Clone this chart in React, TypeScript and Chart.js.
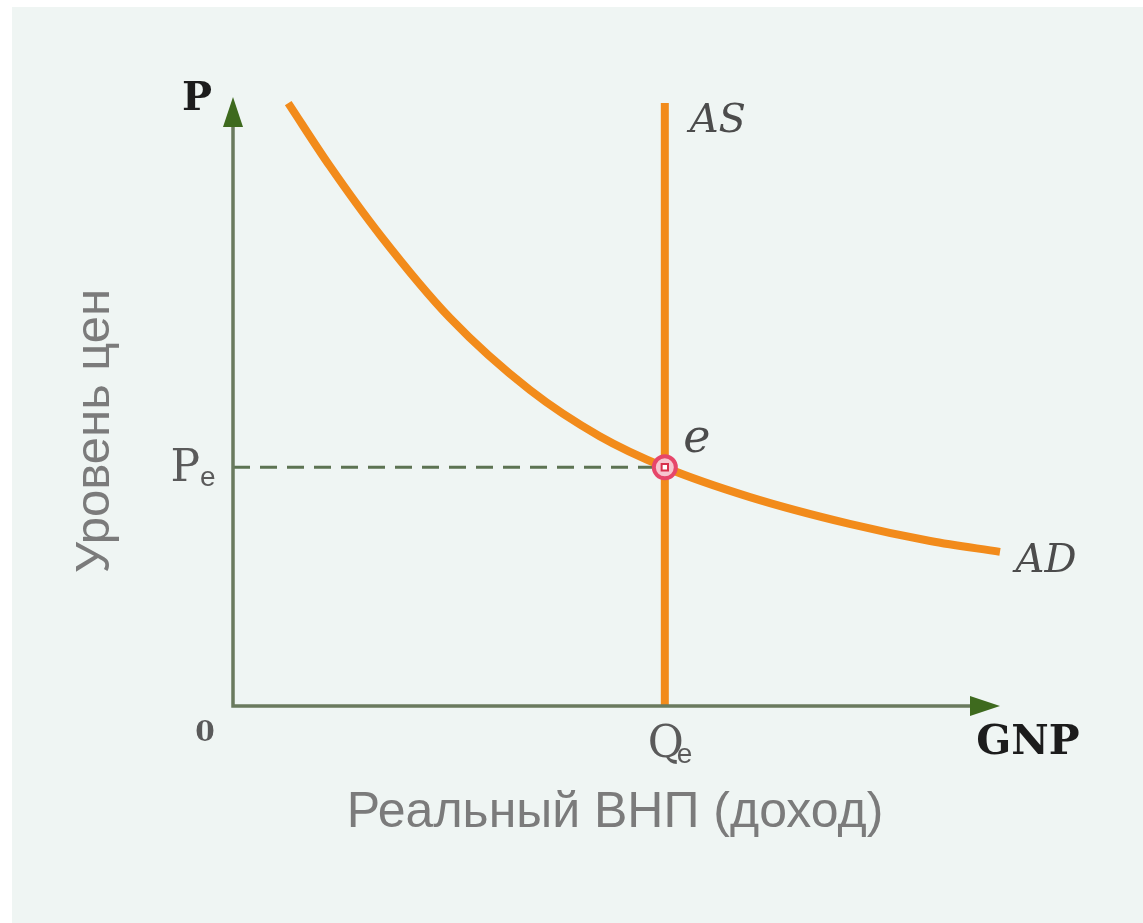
import React, { useEffect, useRef } from "react";
import { Chart, registerables } from "chart.js";

Chart.register(...registerables);

// ---- data (model units) ----
const adX = [0.72, 1.26, 1.92, 2.83, 3.87, 4.78, 5.63, 6.74, 8.04, 9.09, 10.0];
const adY = [9.9, 8.87, 7.73, 6.37, 5.19, 4.43, 3.92, 3.43, 2.99, 2.71, 2.53];
const asX = [5.63, 5.63];
const asY = [0, 9.9];
const eqX = 5.63;
const eqY = 3.92;
const axisMax = [10, 10];

// ---- text ----
const yAxisSymbol = "P";
const xAxisSymbol = "GNP";
const originLabel = "0";
const yTitle = "Уровень цен";
const xTitle = "Реальный ВНП (доход)";
const asLabel = "AS";
const adLabel = "AD";
const eqLabel = "e";
const peMain = "P";
const qeMain = "Q";
const subE = "e";

const ORANGE = "#f28b1b";

const decorPlugin = {
  id: "decor",
  beforeDraw(chart: any) {
    const ctx = chart.ctx;
    ctx.save();
    ctx.fillStyle = "#ffffff";
    ctx.fillRect(0, 0, chart.width, chart.height);
    ctx.fillStyle = "#eff5f3";
    ctx.fillRect(12, 7, chart.width - 12, chart.height - 7);
    ctx.restore();
  },
  afterDatasetsDraw(chart: any) {
    const ctx = chart.ctx;
    const xs = chart.scales.x;
    const ys = chart.scales.y;
    const x0 = xs.getPixelForValue(0);
    const y0 = ys.getPixelForValue(0);
    const x1 = xs.getPixelForValue(axisMax[0]);
    const y1 = ys.getPixelForValue(axisMax[1]);
    const ah = 30;
    const aw = 10;
    ctx.save();
    // axis lines
    ctx.strokeStyle = "#6a7a5e";
    ctx.lineWidth = 3.5;
    ctx.beginPath();
    ctx.moveTo(x0, y1 + ah - 2);
    ctx.lineTo(x0, y0);
    ctx.lineTo(x1 - ah + 2, y0);
    ctx.stroke();
    // arrowheads
    ctx.fillStyle = "#3e6a1e";
    ctx.beginPath();
    ctx.moveTo(x0, y1);
    ctx.lineTo(x0 - aw, y1 + ah);
    ctx.lineTo(x0 + aw, y1 + ah);
    ctx.closePath();
    ctx.fill();
    ctx.beginPath();
    ctx.moveTo(x1, y0);
    ctx.lineTo(x1 - ah, y0 - aw);
    ctx.lineTo(x1 - ah, y0 + aw);
    ctx.closePath();
    ctx.fill();

    const ex = xs.getPixelForValue(eqX);
    const ey = ys.getPixelForValue(eqY);

    // axis symbols
    ctx.textAlign = "center";
    ctx.textBaseline = "middle";
    ctx.fillStyle = "#1c1c1c";
    ctx.font = "bold 40px 'DejaVu Serif'";
    ctx.fillText(yAxisSymbol, x0 - 36, y1 + 3);
    ctx.font = "bold 41px 'DejaVu Serif'";
    ctx.fillText(xAxisSymbol, x1 + 28, y0 + 37);
    ctx.fillStyle = "#5a5a5a";
    ctx.font = "bold 28px 'DejaVu Serif'";
    ctx.fillText(originLabel, x0 - 28, y0 + 28);

    // curve labels
    ctx.fillStyle = "#4c4c4c";
    ctx.font = "italic 40px 'DejaVu Serif'";
    ctx.fillText(asLabel, ex + 53, ys.getPixelForValue(asY[1]) + 19);
    ctx.fillText(adLabel, xs.getPixelForValue(adX[adX.length - 1]) + 46,
      ys.getPixelForValue(adY[adY.length - 1]) + 10);
    ctx.font = "italic 46px 'DejaVu Serif'";
    ctx.fillText(eqLabel, ex + 32, ey - 27);

    // Pe
    ctx.fillStyle = "#5a5a5a";
    ctx.textBaseline = "alphabetic";
    ctx.textAlign = "right";
    ctx.font = "44px 'DejaVu Serif'";
    ctx.fillText(peMain, x0 - 33, ey + 14);
    ctx.textAlign = "left";
    ctx.font = "28px 'Liberation Sans'";
    ctx.fillText(subE, x0 - 33, ey + 19);
    // Qe
    ctx.font = "44px 'DejaVu Serif'";
    ctx.fillText(qeMain, ex - 17, y0 + 51);
    ctx.font = "28px 'Liberation Sans'";
    ctx.fillText(subE, ex + 12, y0 + 57);

    // titles
    ctx.fillStyle = "#7b7b7b";
    ctx.textAlign = "center";
    ctx.textBaseline = "middle";
    ctx.font = "50px 'Liberation Sans'";
    ctx.fillText(xTitle, 615, y0 + 107);
    ctx.save();
    ctx.translate(95, 431);
    ctx.rotate(-Math.PI / 2);
    ctx.font = "49px 'Liberation Sans'";
    ctx.fillText(yTitle, 0, 0);
    ctx.restore();

    ctx.restore();
  },
};

export default function App() {
  const ref = useRef<HTMLCanvasElement | null>(null);
  useEffect(() => {
    if (!ref.current) return;
    const chart = new Chart(ref.current, {
      type: "scatter",
      data: {
        datasets: [
          {
            label: "e",
            data: [{ x: eqX, y: eqY }],
            pointRadius: 11,
            pointBorderWidth: 4,
            pointBackgroundColor: "#f6c6d0",
            pointBorderColor: "#e6466a",
            order: 0,
            clip: false,
          } as any,
          {
            label: "e-core",
            data: [{ x: eqX, y: eqY }],
            pointStyle: "rect",
            pointRadius: 4.5,
            pointBorderWidth: 2,
            pointBackgroundColor: "#ffffff",
            pointBorderColor: "#d8304c",
            order: -1,
            clip: false,
          } as any,
          {
            label: "AD",
            data: adX.map((x, i) => ({ x, y: adY[i] })),
            showLine: true,
            borderColor: ORANGE,
            borderWidth: 8,
            pointRadius: 0,
            cubicInterpolationMode: "monotone",
            order: 1,
            clip: false,
          } as any,
          {
            label: "AS",
            data: asX.map((x, i) => ({ x, y: asY[i] })),
            showLine: true,
            borderColor: ORANGE,
            borderWidth: 8,
            pointRadius: 0,
            order: 2,
            clip: false,
          } as any,
          {
            label: "Pe",
            data: [{ x: 0, y: eqY }, { x: eqX, y: eqY }],
            showLine: true,
            borderColor: "#5c7352",
            borderWidth: 3,
            borderDash: [17, 10],
            pointRadius: 0,
            order: 3,
            clip: false,
          } as any,
        ],
      },
      options: {
        animation: false,
        responsive: false,
        devicePixelRatio: 1,
        events: [],
        layout: { padding: { left: 233, right: 143, top: 97, bottom: 217 } },
        scales: {
          x: { type: "linear", min: 0, max: axisMax[0], display: false },
          y: { type: "linear", min: 0, max: axisMax[1], display: false },
        },
        plugins: { legend: { display: false }, tooltip: { enabled: false } },
      },
      plugins: [decorPlugin],
    });
    return () => chart.destroy();
  }, []);
  return (
    <div style={{ position: "fixed", left: 0, top: 0, width: 1143, height: 923 }}>
      <canvas ref={ref} width={1143} height={923} style={{ display: "block" }} />
    </div>
  );
}
